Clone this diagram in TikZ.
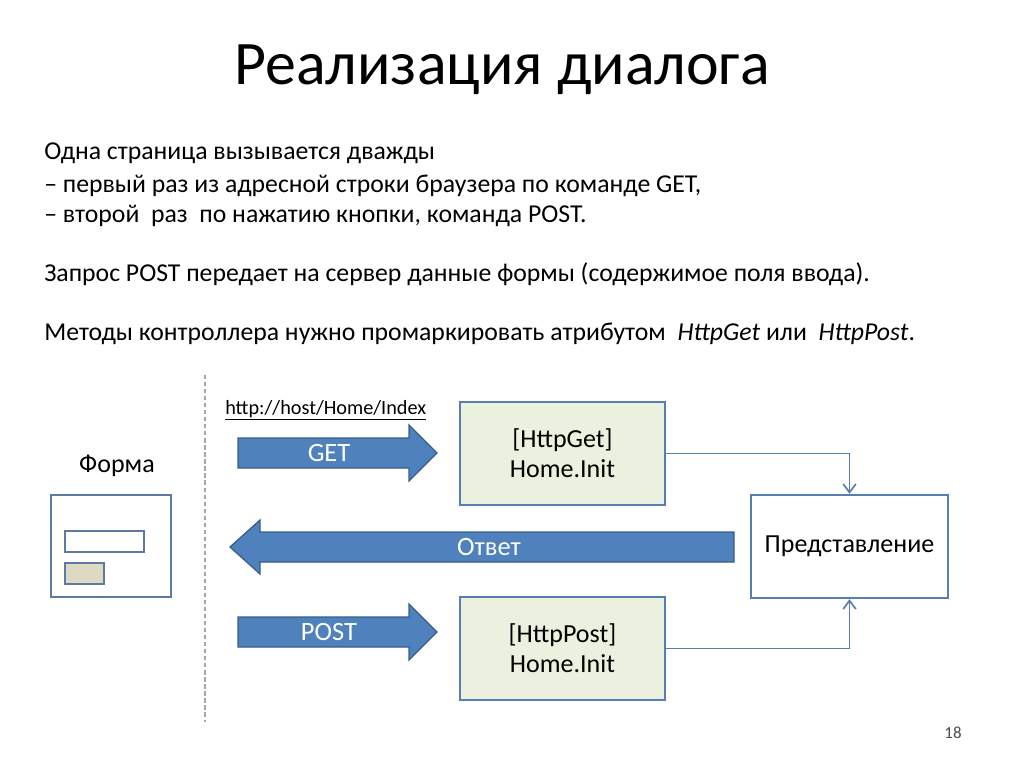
\documentclass[tikz,border=0pt]{standalone}
\usepackage{fontspec}
\setmainfont{Carlito}
\usetikzlibrary{arrows.meta}
\definecolor{boxline}{RGB}{87,126,180}
\definecolor{arrowfill}{RGB}{79,129,189}
\definecolor{arrowline}{RGB}{56,93,138}
\definecolor{formline}{RGB}{92,122,163}
\definecolor{ctrlfill}{RGB}{235,241,222}
\definecolor{buttonfill}{RGB}{221,217,195}
\begin{document}
\begin{tikzpicture}[x=0.025cm,y=-0.025cm]
		\useasboundingbox (0,0) rectangle (1024,768);
		\tikzset{bodytext/.style={anchor=base west,inner sep=0pt,font=\fontsize{18.3}{22}\selectfont}}
		\tikzset{bigarrow/.style={fill=arrowfill,draw=arrowline,line width=0.9pt}}
		\tikzset{arrowtext/.style={text=white,font=\fontsize{18.8}{22}\selectfont}}
		\tikzset{ctrlbox/.style={draw=boxline,fill=ctrlfill,line width=1.7pt,minimum width=5.125cm,minimum height=2.575cm,align=center,font=\fontsize{18.5}{21.5}\selectfont}}
		\tikzset{conn/.style={draw=boxline,line width=1.2pt,-{Straight Barb[length=6pt,width=9pt]}}}
		\node[anchor=base] (title) at (502,85) {\fontsize{44}{50}\selectfont Реализация диалога}; %title
		\node[bodytext] (line1) at (44,160) {Одна страница вызывается дважды}; %text
		\node[bodytext] (line2) at (44,192) {– первый раз из адресной строки браузера по команде GET,};
		\node[bodytext] (line3) at (44,222) {– второй \ раз \ по нажатию кнопки, команда POST.};
		\node[bodytext] (line4) at (44,281) {Запрос POST передает на сервер данные формы (содержимое поля ввода).};
		\node[bodytext] (line5) at (44,340) {Методы контроллера нужно промаркировать атрибутом \ \textit{HttpGet} или \ \textit{HttpPost}.};
		\draw[gray!70,dashed,line width=0.8pt,dash pattern=on 3pt off 2pt] (205,375) coordinate (top) -- (205,722) coordinate (bottom); %separator
		\node[anchor=base west,inner sep=0pt,font=\fontsize{14.4}{17}\selectfont] (url) at (225,414) {\underline{http://host/Home/Index}};
		\draw[bigarrow] (238,438) -- (409,438) -- (409,425) -- (437,453) -- (409,481) -- (409,468) -- (238,468) -- cycle; %arrows
		\node[arrowtext] (get) at (329,453) {GET};
		\draw[bigarrow] (238,617) -- (409,617) -- (409,604) -- (437,632) -- (409,660) -- (409,647) -- (238,647) -- cycle;
		\node[arrowtext] (post) at (329,632) {POST};
		\draw[bigarrow] (734,532) -- (260,532) -- (260,520) -- (230,547) -- (260,574) -- (260,562) -- (734,562) -- cycle;
		\node[arrowtext] (answer) at (489,547) {Ответ};
		\node[font=\fontsize{18.5}{22}\selectfont] (formlabel) at (117,466) {Форма}; %form
		\draw[formline,line width=2.1pt] (51,495) rectangle (171,597);
		\draw[formline,line width=2.1pt] (65,531) rectangle (144,552);
		\draw[formline,line width=2.1pt,fill=buttonfill] (65,563) rectangle (104,584);
		\node[ctrlbox] (httpget) at (562.5,453.5) {[HttpGet]\\Home.Init}; %controller methods
		\node[ctrlbox] (httppost) at (562.5,648.5) {[HttpPost]\\Home.Init};
		\node[ctrlbox,fill=white,minimum width=4.925cm] (view) at (849.5,546.5) {Представление};
		\draw[conn] (httpget.east) -| (view.north); %connectors
		\draw[conn] (httppost.east) -| (view.south);
		\node[text=gray!60!black,font=\fontsize{12}{14}\selectfont] (page) at (953,733) {18};
	\end{tikzpicture}
\end{document}
